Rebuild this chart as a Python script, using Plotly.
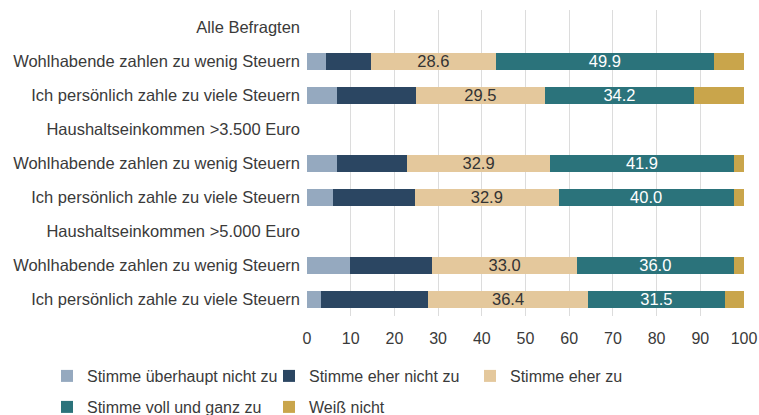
import plotly.graph_objects as go

row_labels = [
    "Alle Befragten",
    "Wohlhabende zahlen zu wenig Steuern",
    "Ich persönlich zahle zu viele Steuern",
    "Haushaltseinkommen >3.500 Euro",
    "Wohlhabende zahlen zu wenig Steuern",
    "Ich persönlich zahle zu viele Steuern",
    "Haushaltseinkommen >5.000 Euro",
    "Wohlhabende zahlen zu wenig Steuern",
    "Ich persönlich zahle zu viele Steuern",
]
row_pos = list(range(len(row_labels)))

series_names = [
    "Stimme überhaupt nicht zu",
    "Stimme eher nicht zu",
    "Stimme eher zu",
    "Stimme voll und ganz zu",
    "Weiß nicht",
]
ueberhaupt_nicht = [None, 4.3, 6.9, None, 6.8, 5.9, None, 9.9, 3.1]
eher_nicht = [None, 10.3, 18.0, None, 16.0, 18.8, None, 18.8, 24.7]
eher_zu = [None, 28.6, 29.5, None, 32.9, 32.9, None, 33.0, 36.4]
voll_und_ganz = [None, 49.9, 34.2, None, 41.9, 40.0, None, 36.0, 31.5]
weiss_nicht = [None, 6.9, 11.4, None, 2.4, 2.4, None, 2.3, 4.3]

x_ticks = [0, 10, 20, 30, 40, 50, 60, 70, 80, 90, 100]

series_values = [ueberhaupt_nicht, eher_nicht, eher_zu, voll_und_ganz, weiss_nicht]
colors = ["#95A9BF", "#2B4662", "#E4C89C", "#2B737B", "#C9A54B"]
show_text = [False, False, True, True, False]
text_colors = ["#333333", "#FFFFFF", "#333333", "#FFFFFF", "#333333"]
legend_ids = ["legend", "legend2", "legend3", "legend4", "legend5"]

W, H = 759, 415
# legend anchor positions (page pixels) for each entry
legend_px = [(47, 376), (269, 376), (470, 376), (47, 407), (269, 407)]

fig = go.Figure()
for name, vals, col, st, tc, lg in zip(series_names, series_values, colors, show_text, text_colors, legend_ids):
    fig.add_trace(go.Bar(
        x=vals, y=row_pos, orientation="h", name=name,
        marker=dict(color=col, line=dict(width=0)),
        width=0.5,
        texttemplate="%{x:.1f}" if st else None,
        textposition="inside" if st else "none",
        insidetextanchor="middle",
        constraintext="none",
        textangle=0,
        textfont=dict(size=16.5, color=tc, family="Liberation Sans, Arial, sans-serif"),
        legend=lg,
        hoverinfo="x+name",
    ))

legend_font = dict(family="Liberation Sans, Arial, sans-serif", size=16, color="#3A3A3A")

layout_legends = {}
for lg, (px, py) in zip(legend_ids, legend_px):
    layout_legends[lg] = dict(
        orientation="h", xref="container", yref="container",
        x=px / W, y=1 - py / H, xanchor="left", yanchor="middle",
        font=legend_font, bgcolor="rgba(0,0,0,0)",
    )

fig.update_layout(
    barmode="stack",
    width=W, height=H,
    margin=dict(l=307, r=15, t=10, b=99, autoexpand=False),
    paper_bgcolor="white", plot_bgcolor="white",
    font=dict(family="Liberation Sans, Arial, sans-serif", size=16.5, color="#3A3A3A"),
    xaxis=dict(
        range=[0, 100], tickvals=x_ticks, showgrid=True, gridcolor="#DCDCDC", gridwidth=1,
        zeroline=False, showline=False, ticks="", ticklabelstandoff=11, automargin=False,
        tickfont=dict(size=16, color="#3A3A3A"),
    ),
    yaxis=dict(
        tickvals=row_pos, ticktext=row_labels, range=[8.5, -0.5], automargin=False,
        showgrid=False, zeroline=False, showline=False, ticks="", ticklabelstandoff=6,
        tickfont=dict(size=16.5, color="#3A3A3A"),
    ),
    showlegend=True,
    **layout_legends,
)

fig.write_html(
    "out.html",
    config={"displayModeBar": False},
    post_script="document.body.style.margin='0';document.body.style.overflow='hidden';",
)
